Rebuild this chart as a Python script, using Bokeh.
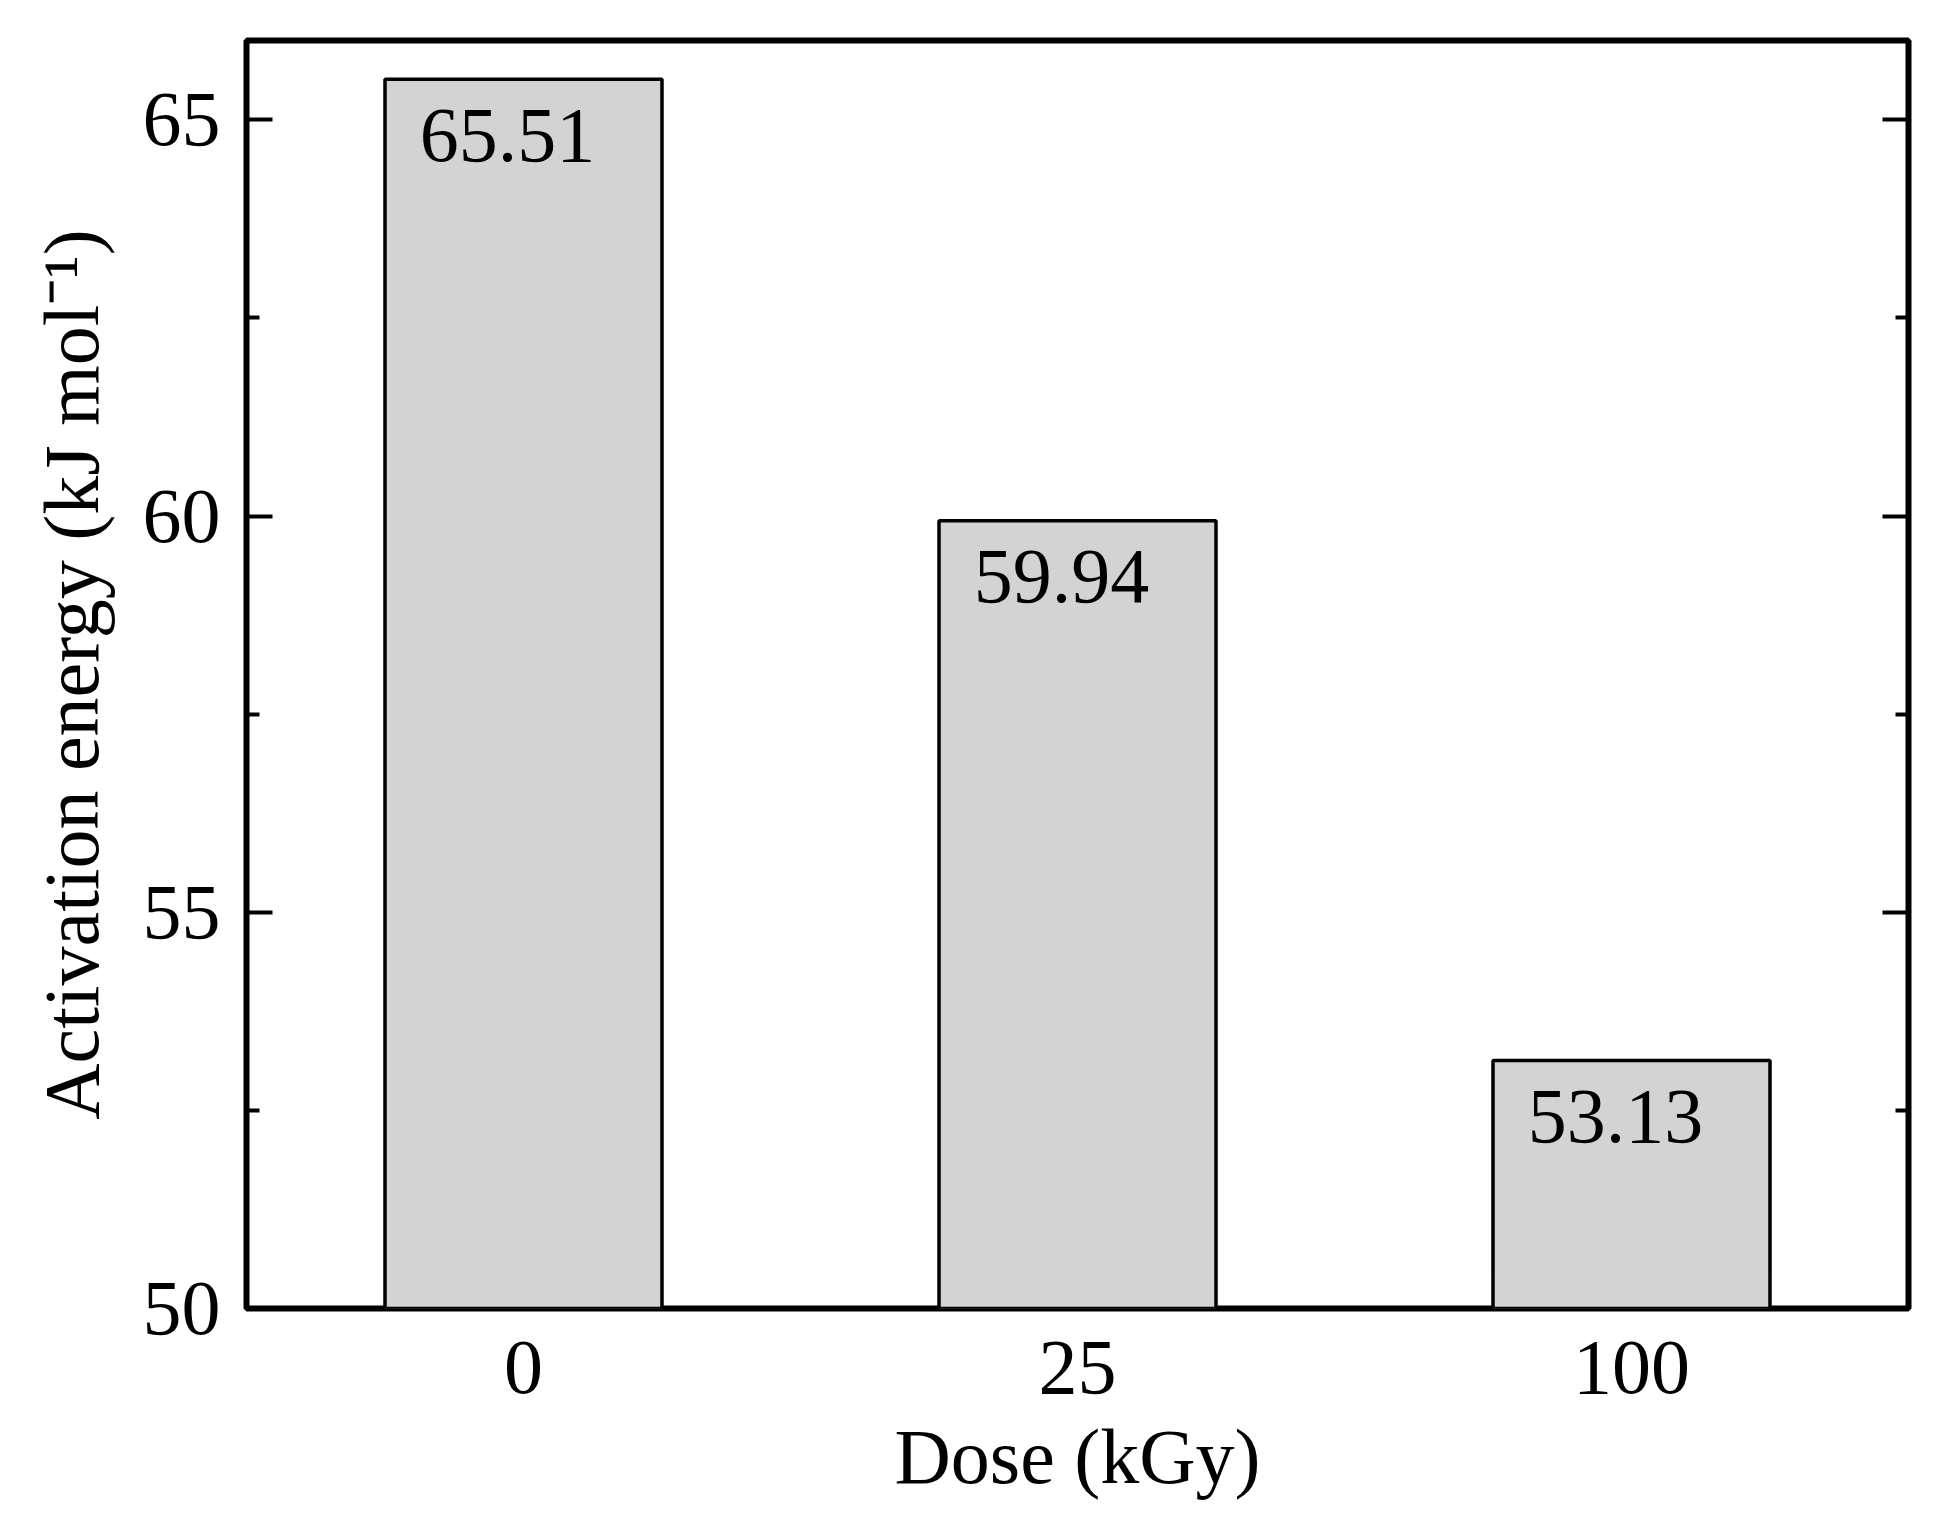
from bokeh.plotting import figure
from bokeh.models import ColumnDataSource, FactorRange, Range1d, LinearAxis, FixedTicker
from bokeh.core.properties import value
from bokeh.embed import file_html
from bokeh.resources import INLINE

# Data
doses = ["0", "25", "100"]
energies = [65.51, 59.94, 53.13]
energy_labels = ["65.51", "59.94", "53.13"]
y_major = [50, 55, 60, 65]
y_minor = [52.5, 57.5, 62.5]

FONT = "Liberation Serif"
FONT_SIZE = "78px"


def style_axis(axis, tick_len=26, minor_len=13):
    axis.axis_line_color = None
    axis.major_tick_in = tick_len
    axis.major_tick_out = 0
    axis.minor_tick_in = minor_len
    axis.minor_tick_out = 0
    axis.major_tick_line_color = "black"
    axis.minor_tick_line_color = "black"
    axis.major_tick_line_width = 4
    axis.minor_tick_line_width = 4
    axis.major_label_text_font = FONT
    axis.major_label_text_font_size = FONT_SIZE
    axis.major_label_text_color = "black"
    axis.axis_label_text_font = FONT
    axis.axis_label_text_font_size = FONT_SIZE
    axis.axis_label_text_font_style = "normal"
    axis.axis_label_text_color = "black"


source = ColumnDataSource(data=dict(dose=doses, energy=energies, label=energy_labels))

p = figure(
    x_range=FactorRange(*doses), y_range=Range1d(50, 66),
    width=1927, height=1517, output_backend="svg", toolbar_location=None,
    min_border_left=246, min_border_top=40, min_border_right=19, min_border_bottom=209,
    background_fill_color="white", border_fill_color="white",
)
p.xgrid.visible = False
p.ygrid.visible = False
p.outline_line_color = "black"
p.outline_line_width = 6
p.outline_line_alpha = 1.0

p.vbar(x="dose", top="energy", bottom=0, width=0.5, source=source,
       fill_color="#d3d3d3", line_color="black", line_width=3.5)

p.text(x="dose", y="energy", text="label", source=source,
       text_font=value(FONT), text_font_size=FONT_SIZE, text_color="black",
       text_align="center", text_baseline="alphabetic", x_offset=-16, y_offset=56)

# left axis
yaxis = p.yaxis[0]
yaxis.ticker = FixedTicker(ticks=y_major, minor_ticks=y_minor)
style_axis(yaxis)
yaxis.axis_label = "Activation energy (kJ mol\u207b\u00b9)"
yaxis.major_label_standoff = 26
yaxis.axis_label_standoff = 25

# right axis, ticks only
raxis = LinearAxis(ticker=FixedTicker(ticks=y_major, minor_ticks=y_minor))
style_axis(raxis)
raxis.major_label_overrides = {t: "" for t in y_major}
raxis.major_label_standoff = 0
p.add_layout(raxis, "right")

# bottom axis
xaxis = p.xaxis[0]
style_axis(xaxis, tick_len=0, minor_len=0)
xaxis.major_tick_line_color = None
xaxis.minor_tick_line_color = None
xaxis.axis_label = "Dose (kGy)"
xaxis.major_label_standoff = 33
xaxis.axis_label_standoff = 17

open("out.html", "w").write(file_html(p, INLINE))
